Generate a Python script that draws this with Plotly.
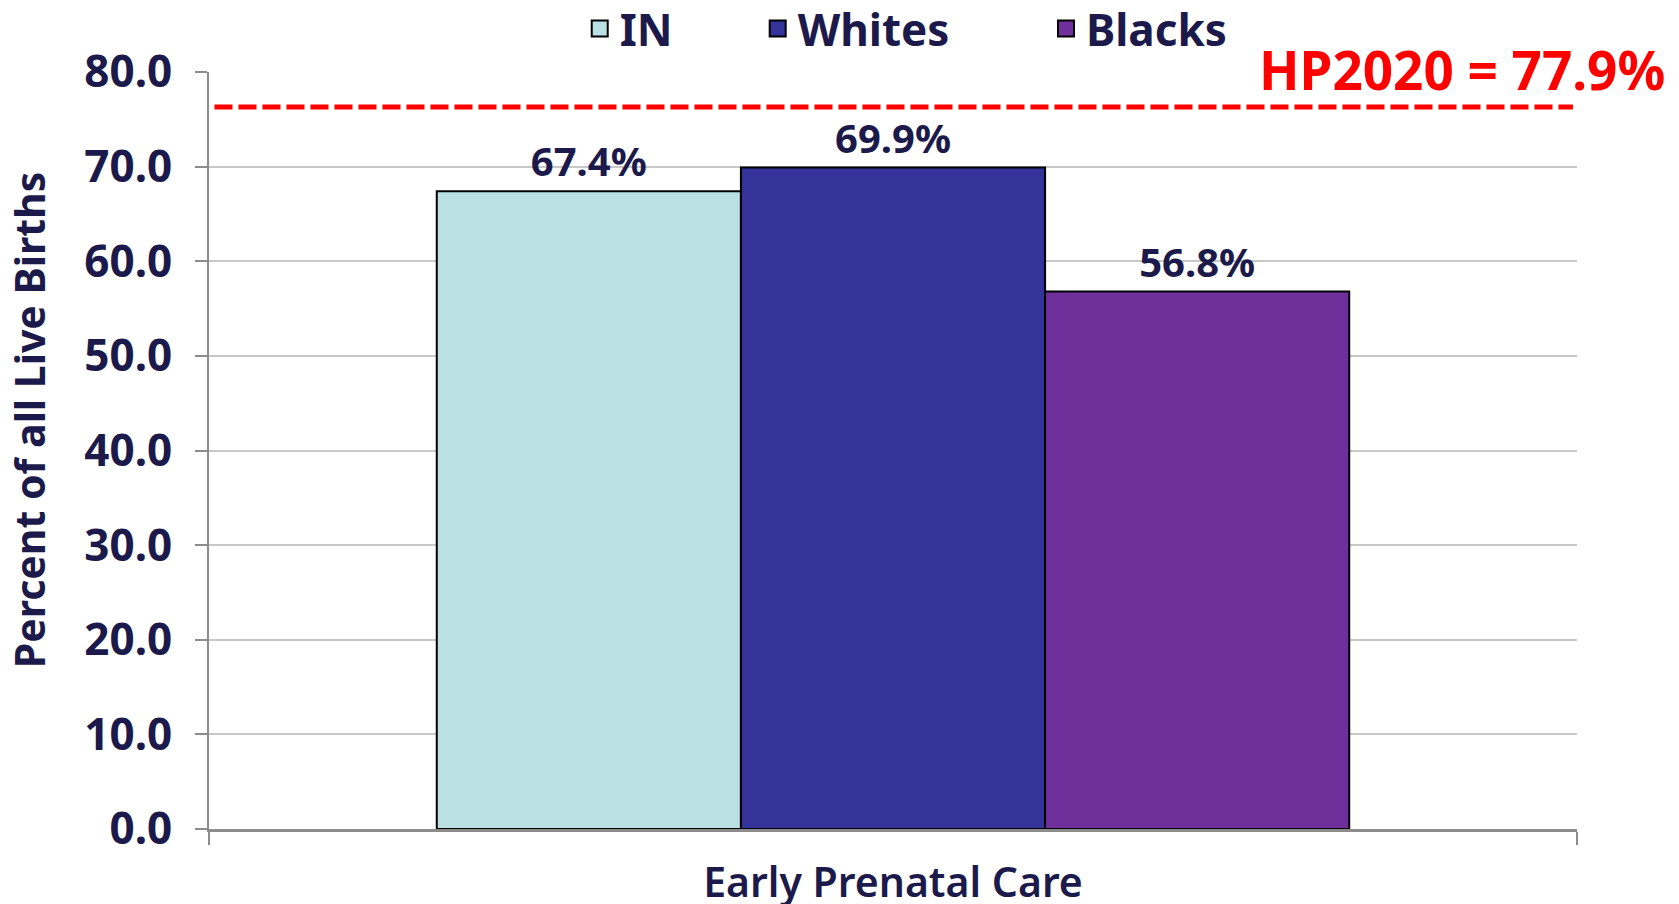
import plotly.graph_objects as go

categories = ["Early Prenatal Care"]
groups = ["IN", "Whites", "Blacks"]
values = [67.4, 69.9, 56.8]
labels = ["67.4%", "69.9%", "56.8%"]
colors = ["#BAE0E3", "#343399", "#70309C"]
hp2020_line = 76.3
hp2020_label = "HP2020 = 77.9%"

navy = "#1B1A4B"
c_grid = "#C8C8C8"
c_axis = "#8C8C8C"
font = "Noto Sans"
legend_pad = [7, 8, 7]

fig = go.Figure()
for name, val, lab, col in zip(groups, values, labels, colors):
    fig.add_trace(
        go.Bar(
            x=categories,
            y=[val],
            name=name,
            text=[lab],
            textposition="outside",
            cliponaxis=False,
            showlegend=False,
            textfont=dict(family=font, size=40, color=navy, weight="bold"),
            marker=dict(color=col, line=dict(color="black", width=2)),
        )
    )

# legend-only entries so the swatches can be drawn bigger than the bar default
for name, col, pad in zip(groups, colors, legend_pad):
    fig.add_trace(
        go.Scatter(
            x=[None],
            y=[None],
            mode="markers",
            name=name + "\u00a0" * pad,
            marker=dict(symbol="square", size=16, color=col, line=dict(color="black", width=2)),
        )
    )

fig.add_shape(
    type="line",
    xref="paper",
    yref="y",
    x0=0.004,
    x1=0.997,
    y0=hp2020_line,
    y1=hp2020_line,
    line=dict(color="#FF0000", width=5, dash="18px,6px"),
)
fig.add_annotation(
    text=hp2020_label,
    xref="paper",
    yref="paper",
    x=1.066,
    y=1.003,
    xanchor="right",
    yanchor="middle",
    showarrow=False,
    font=dict(family=font, size=53, color="#FF0000", weight="bold"),
)
fig.add_annotation(
    text="Percent of all Live Births",
    xref="paper",
    yref="paper",
    x=-0.131,
    y=0.541,
    textangle=-90,
    xanchor="center",
    yanchor="middle",
    showarrow=False,
    font=dict(family=font, size=41, color=navy, weight="bold"),
)

# page body adds an 8px offset, so margins are shifted to land the plot on the reference
fig.update_layout(
    width=1679,
    height=904,
    margin=dict(l=201, r=110, t=64, b=83, autoexpand=False),
    plot_bgcolor="white",
    paper_bgcolor="white",
    barmode="group",
    bargap=0.333,
    bargroupgap=0,
    showlegend=True,
    legend=dict(
        orientation="h",
        x=0.271,
        y=1.057,
        xanchor="left",
        yanchor="middle",
        font=dict(family=font, size=44, color=navy, weight="bold"),
    ),
)
fig.update_yaxes(
    range=[0, 80],
    dtick=10,
    tickformat=".1f",
    showgrid=True,
    gridcolor=c_grid,
    gridwidth=2,
    showline=True,
    linecolor=c_axis,
    linewidth=2,
    ticks="outside",
    ticklen=12,
    tickwidth=2,
    tickcolor=c_axis,
    ticklabelstandoff=14,
    tickfont=dict(family=font, size=44, color=navy, weight="bold"),
    zeroline=False,
)
fig.update_xaxes(
    showline=True,
    linecolor=c_axis,
    linewidth=3,
    ticks="outside",
    tickson="boundaries",
    ticklen=13,
    tickwidth=2,
    tickcolor=c_axis,
    ticklabelstandoff=16,
    tickfont=dict(family=font, size=41, color=navy, weight=600),
)

fig.write_html("out.html")
